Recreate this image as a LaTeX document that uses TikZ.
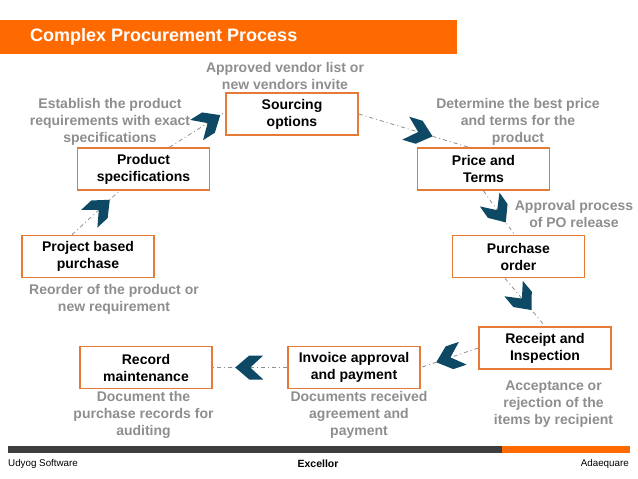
\documentclass[tikz,border=0pt]{standalone}
\usepackage{fontspec}
\setmainfont{Liberation Sans}
\usetikzlibrary{decorations.markings}
\definecolor{PRCOrange}{HTML}{FF6A00}
\definecolor{PRCEdge}{HTML}{E57B36}
\definecolor{PRCGray}{HTML}{8E8E8E}
\definecolor{PRCTeal}{HTML}{0D4965}
\definecolor{PRCDark}{HTML}{3E3E3E}

\begin{document}
\begin{tikzpicture}[
  x=1pt, y=-1pt,
  stepbox/.style={draw=PRCEdge, line width=1.6pt, fill=white, align=center, minimum width=132pt, minimum height=42pt, inner sep=2pt, font=\fontsize{14}{17}\selectfont\bfseries},
  note/.style={align=center, text=PRCGray, inner sep=0pt, font=\fontsize{14}{17}\selectfont\bfseries},
  foot/.style={inner sep=0pt, font=\fontsize{9.8}{11}\selectfont},
  link/.style={draw=PRCGray, line width=0.8pt, dash pattern=on 4pt off 3pt on 1pt off 3pt},
  chevron at/.style={postaction={decorate, decoration={markings, mark=at position #1 with {
    \fill[PRCTeal] (14,0) -- (0,12) -- (-14,12) -- (-1,0) -- (-14,-12) -- (0,-12) -- cycle;}}}}
]
\useasboundingbox (0,0) rectangle (638,479);

% title bar
\fill[PRCOrange] (0,20) rectangle (457,54);
\node[anchor=west, text=white, inner sep=0pt, font=\fontsize{18}{20}\selectfont\bfseries] (title) at (30,37) {Complex Procurement Process};

% process steps
\node[stepbox] (source) at (292,114) {Sourcing\\options};
\node[stepbox] (spec) at (143.5,169) {Product\\specifications};
\node[stepbox] (price) at (483.5,169) {Price and\\Terms};
\node[stepbox] (project) at (88,256.5) {Project based\\purchase};
\node[stepbox] (order) at (518.5,256.5) {Purchase\\order};
\node[stepbox] (receipt) at (545,348) {Receipt and\\Inspection};
\node[stepbox] (invoice) at (354,367.5) {Invoice approval\\and payment};
\node[stepbox] (record) at (146,367.5) {Record\\maintenance};

% notes
\node[note] (sourcenote) at (285,76) {Approved vendor list or\\new vendors invite};
\node[note] (specnote) at (110,122) {Establish the product\\requirements with exact\\specifications};
\node[note] (pricenote) at (518,122) {Determine the best price\\and terms for the\\product};
\node[note] (ordernote) at (574,213.5) {Approval process\\of PO release};
\node[note] (projectnote) at (114,299.5) {Reorder of the product or\\new requirement};
\node[note] (recordnote) at (143.5,415) {Document the\\purchase records for\\auditing};
\node[note] (invoicenote) at (359,415) {Documents received\\agreement and\\payment};
\node[note] (receiptnote) at (553.5,404.5) {Acceptance or\\rejection of the\\items by recipient};

% connectors
\draw[link, chevron at=0.58] ([xshift=-16pt]project.north) -- ([xshift=-24pt]spec.south);
\draw[link, chevron at=0.7] ([xshift=26pt]spec.north) -- ([yshift=2pt]source.west);
\draw[link, chevron at=0.55] (source.east) -- ([xshift=-15pt]price.north);
\draw[link, chevron at=0.46] (price.south) -- ([xshift=-4pt]order.north);
\draw[link, chevron at=0.44] ([xshift=-13.5pt]order.south) -- (receipt.north);
\draw[link, chevron at=0.5] (receipt.west) -- (invoice.east);
\draw[link, chevron at=0.51] (invoice.west) -- (record.east);

% footer
\fill[PRCDark] (8,446) rectangle (502,452.5);
\fill[PRCOrange] (502,446) rectangle (630,452.5);
\node[foot, anchor=west] (leftfoot) at (8,464) {Udyog Software};
\node[foot, font=\fontsize{10.5}{12}\selectfont\bfseries] (midfoot) at (318,464) {Excellor};
\node[foot, anchor=east] (rightfoot) at (629,464) {Adaequare};
\end{tikzpicture}
\end{document}
